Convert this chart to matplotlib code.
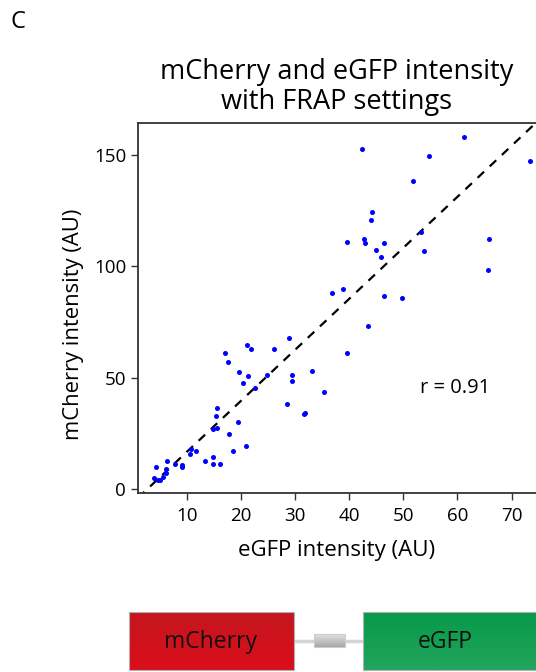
import matplotlib.pyplot as plt
import numpy as np

plt.rcParams['font.family'] = ['Open Sans', 'DejaVu Sans']

# eGFP / mCherry intensities (AU)
egfp = [16.97, 17.52, 21.16, 21.77, 19.61, 21.27, 20.35, 24.73, 22.69, 15.54,
        15.43, 14.93, 15.54, 19.42, 17.71, 10.81, 11.74, 10.68, 18.50, 20.85,
        13.40, 14.75, 14.75, 16.17, 6.30, 7.73, 9.15, 9.15, 4.22, 6.12,
        6.19, 5.69, 3.98, 4.64, 5.08, 42.34, 44.13, 43.94, 39.56, 42.65,
        42.96, 46.35, 45.00, 45.85, 36.79, 38.82, 46.35, 43.57, 28.92, 26.20,
        39.56, 33.04, 29.40, 29.40, 35.31, 28.48, 31.62, 31.88, 61.18, 54.72,
        73.38, 51.76, 53.24, 65.75, 53.74, 65.56, 49.73]
mcherry = [60.9, 56.9, 64.5, 62.9, 52.5, 50.9, 47.5, 51.1, 45.2, 36.4,
           32.6, 26.8, 27.5, 30.1, 24.6, 18.0, 17.1, 15.6, 17.1, 19.3,
           12.6, 14.4, 11.1, 11.4, 12.6, 11.2, 10.9, 9.9, 9.7, 9.0,
           7.3, 5.5, 5.1, 3.9, 3.9, 152.8, 124.5, 120.8, 111.0, 112.3,
           110.3, 110.3, 107.3, 104.3, 88.0, 89.9, 86.7, 73.1, 68.0, 62.9,
           60.9, 52.9, 51.1, 48.6, 43.4, 38.3, 33.5, 34.1, 157.9, 149.7,
           147.4, 138.4, 115.5, 112.4, 106.7, 98.2, 85.8]

fit_slope = 2.29
fit_intercept = -6.24
r_text = 'r = 0.91'

x_ticks = [10, 20, 30, 40, 50, 60, 70]
y_ticks = [0, 50, 100, 150]

W, H = 536, 672
fig = plt.figure(figsize=(W / 100, H / 100), dpi=100)

ax = fig.add_axes([138 / W, 179 / H, 1 - 138 / W, 370 / H])
ax.set_xlim(0.98, 74.52)
ax.set_ylim(-1.8, 164.3)

# regression line
xs = np.array(ax.get_xlim())
ax.plot(xs, fit_slope * xs + fit_intercept, color='black', lw=1.6,
        dashes=(4, 3.5), zorder=1)
ax.scatter(egfp, mcherry, s=13, color='#0000ff', lw=0, zorder=2)

ax.set_xticks(x_ticks)
ax.set_yticks(y_ticks)
ax.tick_params(labelsize=13.5, length=5, width=1, color='#333333')
ax.tick_params(axis='x', pad=5)
for side in ['left', 'bottom', 'top']:
    ax.spines[side].set_color('#333333')
    ax.spines[side].set_linewidth(1.3)
ax.spines['right'].set_visible(False)

ax.set_xlabel('eGFP intensity (AU)', fontsize=16, labelpad=11)
ax.set_ylabel('mCherry intensity (AU)', fontsize=15.8)
ax.yaxis.set_label_coords(-0.135, 0.457)
ax.set_title('mCherry and eGFP intensity\nwith FRAP settings', fontsize=19.5,
             linespacing=1.12, pad=10)
ax.text(59.6, 45.4, r_text, fontsize=14.5, ha='center', va='center')

fig.text(10 / W, 1 - 22 / H, 'C', fontsize=17, ha='left', va='center')

# construct diagram at the bottom, drawn in pixel coordinates
ov = fig.add_axes([0, 0, 1, 1], zorder=-1)
ov.set_xlim(0, W)
ov.set_ylim(H, 0)
ov.axis('off')

def grad_box(x0, x1, y0, y1, c_top, c_bot, edge):
    c_top = np.array(plt.matplotlib.colors.to_rgb(c_top))
    c_bot = np.array(plt.matplotlib.colors.to_rgb(c_bot))
    t = np.linspace(0, 1, 50)[:, None, None]
    img = c_top * (1 - t) + c_bot * t
    img = np.repeat(img, 2, axis=1)
    ov.imshow(img, extent=(x0, x1, y1, y0), aspect='auto', zorder=2)
    ov.add_patch(plt.Rectangle((x0, y0), x1 - x0, y1 - y0, fill=False,
                               ec=edge, lw=0.8, zorder=3))

ov.plot([294, 363], [641, 641], color='#d4d4d4', lw=2.5, zorder=1)
grad_box(129, 294, 612, 670, '#c5161f', '#da0e1a', '#b0b0b0')
grad_box(363, 540, 612, 670, '#07994a', '#22a55c', '#b0b0b0')
grad_box(314, 345, 634, 647, '#e2e2e2', '#a8a8a8', '#cccccc')
ov.text(211, 642, 'mCherry', fontsize=16.5, ha='center', va='center',
        color='#111111', zorder=4)
ov.text(445, 642, 'eGFP', fontsize=16.5, ha='center', va='center',
        color='#111111', zorder=4)
ov.set_xlim(0, W)
ov.set_ylim(H, 0)

fig.savefig('out.png', dpi=100)
